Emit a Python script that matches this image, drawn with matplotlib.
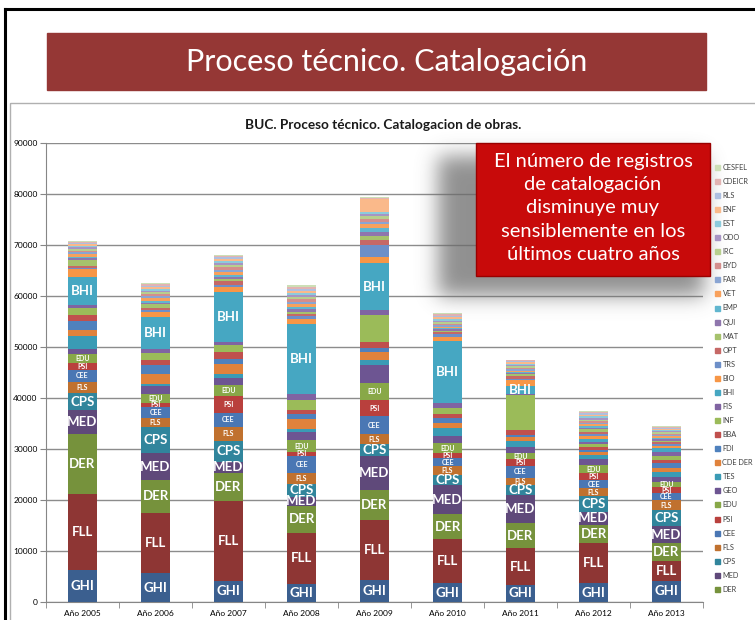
import numpy as np
import matplotlib
matplotlib.use("Agg")
import matplotlib.pyplot as plt
from matplotlib.patches import Rectangle

plt.rcParams["font.family"] = ["Lato", "DejaVu Sans"]

# catalogación por año y por biblioteca (registros)
years = ["Año 2005", "Año 2006", "Año 2007", "Año 2008", "Año 2009",
         "Año 2010", "Año 2011", "Año 2012", "Año 2013"]

ghi = [6200, 5570, 4120, 3470, 4250, 3600, 3270, 3600, 4120]
fll = [14900, 11890, 15680, 10060, 11760, 8630, 7190, 7850, 3860]
der = [11900, 6410, 5500, 5240, 5890, 4900, 5020, 3580, 3470]
med = [4600, 5230, 2150, 1830, 6660, 5740, 5440, 2610, 3390]
cps = [3350, 5100, 4120, 2470, 2290, 1960, 1950, 3090, 3140]
fls = [2150, 1760, 2750, 2100, 2030, 1770, 1430, 1500, 1960]
cee = [2450, 2280, 2740, 3390, 3520, 1510, 2300, 1620, 1310]
psi = [1200, 790, 3330, 840, 3130, 980, 1310, 1310, 1290]
edu = [1800, 1710, 2100, 2290, 3390, 1960, 1180, 1630, 980]
geo = [1100, 1560, 1310, 1630, 3470, 1430, 1290, 1300, 1000]
tes = [2400, 510, 840, 530, 980, 1510, 1180, 700, 1000]
cdeder = [1300, 1960, 2090, 1900, 1630, 1110, 660, 500, 800]
fdi = [1800, 1620, 970, 1170, 860, 860, 450, 400, 800]
bba = [1100, 980, 1300, 790, 1100, 780, 980, 700, 650]
inf = [1300, 1510, 1320, 1960, 5230, 1300, 6860, 600, 850]
fis = [700, 650, 640, 1180, 980, 850, 300, 300, 850]
bhi = [5550, 6330, 9800, 13720, 9330, 12210, 1500, 600, 650]
bio = [1450, 980, 980, 980, 1180, 840, 1100, 600, 400]
trs = [300, 350, 400, 500, 2290, 500, 300, 400, 350]
opt = [400, 400, 700, 450, 980, 450, 600, 500, 400]
mat = [1100, 800, 500, 400, 780, 300, 300, 400, 300]
qui = [300, 300, 400, 600, 850, 250, 250, 300, 300]
emp = [350, 300, 400, 400, 650, 250, 250, 350, 300]
vet = [500, 550, 500, 500, 780, 250, 250, 350, 300]
far = [350, 400, 400, 500, 520, 300, 250, 300, 250]
byd = [300, 350, 600, 400, 650, 300, 250, 350, 250]
irc = [400, 400, 400, 450, 460, 250, 350, 300, 250]
odo = [250, 300, 350, 400, 520, 300, 250, 300, 250]
est = [300, 350, 400, 400, 300, 300, 250, 300, 200]
enf = [300, 450, 450, 500, 2500, 500, 300, 350, 250]
rls = [250, 250, 300, 350, 150, 250, 200, 250, 200]
cdeicr = [200, 200, 250, 300, 100, 250, 150, 250, 150]
cesfel = [250, 280, 300, 370, 100, 250, 150, 250, 150]

names = ["GHI", "FLL", "DER", "MED", "CPS", "FLS", "CEE", "PSI", "EDU", "GEO",
         "TES", "CDE DER", "FDI", "BBA", "INF", "FIS", "BHI", "BIO", "TRS", "OPT",
         "MAT", "QUI", "EMP", "VET", "FAR", "BYD", "IRC", "ODO", "EST", "ENF",
         "RLS", "CDEICR", "CESFEL"]
stack = [ghi, fll, der, med, cps, fls, cee, psi, edu, geo, tes, cdeder, fdi,
         bba, inf, fis, bhi, bio, trs, opt, mat, qui, emp, vet, far, byd, irc,
         odo, est, enf, rls, cdeicr, cesfel]
colors = ["#3b5f8f", "#8e3634", "#76923c", "#5f497a", "#31859c", "#c0712f",
          "#4a77b4", "#b9403d", "#88a848", "#6d5592", "#3a9bb5", "#e0823c",
          "#4f81bd", "#c0504d", "#9bbb59", "#8064a2", "#46a7c2", "#f79646",
          "#6d8fc8", "#c66866", "#a6c26c", "#8f76ad", "#61b6cf", "#f8a15c",
          "#8aa5d3", "#d48e8c", "#b7cf8e", "#a794c3", "#8ccbdc", "#fab98a",
          "#aebfe0", "#e2b3b2", "#cddfb6"]

big_labels = ["GHI", "FLL", "DER", "MED", "CPS"]
small_labels = ["FLS", "CEE", "PSI", "EDU"]
bhi_labeled = 7  # BHI rotulado solo hasta 2011

W, H = 755, 620
fig = plt.figure(figsize=(W / 100, H / 100), dpi=100)
fig.patch.set_facecolor("white")

ax = fig.add_axes([46 / W, 1 - 601.7 / H, 657 / W, (601.7 - 143) / H])
x = np.arange(len(years))
bottom = np.zeros(len(years))
for name, vals, col in zip(names, stack, colors):
    vals = np.array(vals, dtype=float)
    ax.bar(x, vals, 0.41, bottom=bottom, color=col, linewidth=0, zorder=3)
    mid = bottom + vals / 2
    for i in range(len(years)):
        if name in big_labels or (name == "BHI" and i < bhi_labeled):
            ax.text(x[i], mid[i], name, color="white", fontsize=9.5,
                    fontweight="bold", ha="center", va="center", zorder=4)
        elif name in small_labels:
            ax.text(x[i], mid[i], name, color="white", fontsize=5,
                    fontweight="bold", ha="center", va="center", zorder=4)
    bottom += vals

ax.set_xlim(-0.5, len(years) - 0.5)
ax.set_ylim(0, 90000)
ax.set_yticks(np.arange(0, 90001, 10000))
ax.set_yticklabels([str(v) for v in range(0, 90001, 10000)], fontsize=6)
ax.set_xticks(x)
ax.set_xticklabels(years, fontsize=6)
ax.set_xticks(np.arange(-0.5, len(years), 1), minor=True)
ax.tick_params(axis="x", which="major", length=0, pad=6)
ax.tick_params(axis="x", which="minor", length=4, color="#868686")
ax.tick_params(axis="y", length=4, color="#868686", pad=2)
ax.yaxis.grid(True, color="#8c8c8c", linewidth=1, zorder=0)
ax.set_axisbelow(True)
for side in ["top", "right"]:
    ax.spines[side].set_visible(False)
for side in ["left", "bottom"]:
    ax.spines[side].set_color("#868686")

# capa en coordenadas de píxel para marcos, título, nota y leyenda
ov = fig.add_axes([0, 0, 1, 1], zorder=10)
ov.axis("off")
ov.patch.set_visible(False)

ov.plot([5, W], [9, 9], color="black", lw=2.2)
ov.plot([5, 5], [9, H], color="black", lw=2.2)
ov.add_patch(Rectangle((10, 103), W, H, fill=False, edgecolor="#b0b0b0", lw=1))

ov.add_patch(Rectangle((47, 33), 659, 57, color="#953735"))
ov.text(387, 62, "Proceso técnico. Catalogación", color="white", fontsize=22,
        ha="center", va="center")
ov.text(383, 125, "BUC. Proceso técnico. Catalogacion de obras.", fontsize=9.8,
        fontweight="bold", ha="center", va="center", color="#1a1a1a")

# sombra difuminada detrás del recuadro
sh = np.zeros((H, W))
sh[156:296, 438:704] = 1.0
k = np.exp(-0.5 * (np.arange(-30, 31) / 10.0) ** 2)
k /= k.sum()
sh = np.apply_along_axis(lambda r: np.convolve(r, k, mode="same"), 1, sh)
sh = np.apply_along_axis(lambda c: np.convolve(c, k, mode="same"), 0, sh)
rgba = np.zeros((H, W, 4))
rgba[..., :3] = 0.42
rgba[..., 3] = sh * 0.75
ov.imshow(rgba, extent=(0, W, H, 0), zorder=1, aspect="auto")
ov.set_xlim(0, W)
ov.set_ylim(H, 0)

ov.add_patch(Rectangle((476, 143), 234, 133, facecolor="#c80a0a",
                       edgecolor="#9a0000", lw=1, zorder=2))
note = ["El número de registros", "de catalogación", "disminuye muy",
        "sensiblemente en los", "últimos cuatro años"]
for j, line in enumerate(note):
    ov.text(593, 161 + j * 23.5, line, color="white", fontsize=14.5,
            ha="center", va="center", zorder=3)

# leyenda (orden inverso de la pila, se corta al final del área)
for j, (name, col) in enumerate(zip(names[::-1], colors[::-1])):
    y = 167.3 + j * 14.07
    if y > 595:
        break
    ov.add_patch(Rectangle((715, y - 2.5), 5, 5, color=col, zorder=3))
    ov.text(722.5, y, name, fontsize=5.3, color="#404040",
            va="center", ha="left", zorder=3)

fig.savefig("out.png", dpi=100)
